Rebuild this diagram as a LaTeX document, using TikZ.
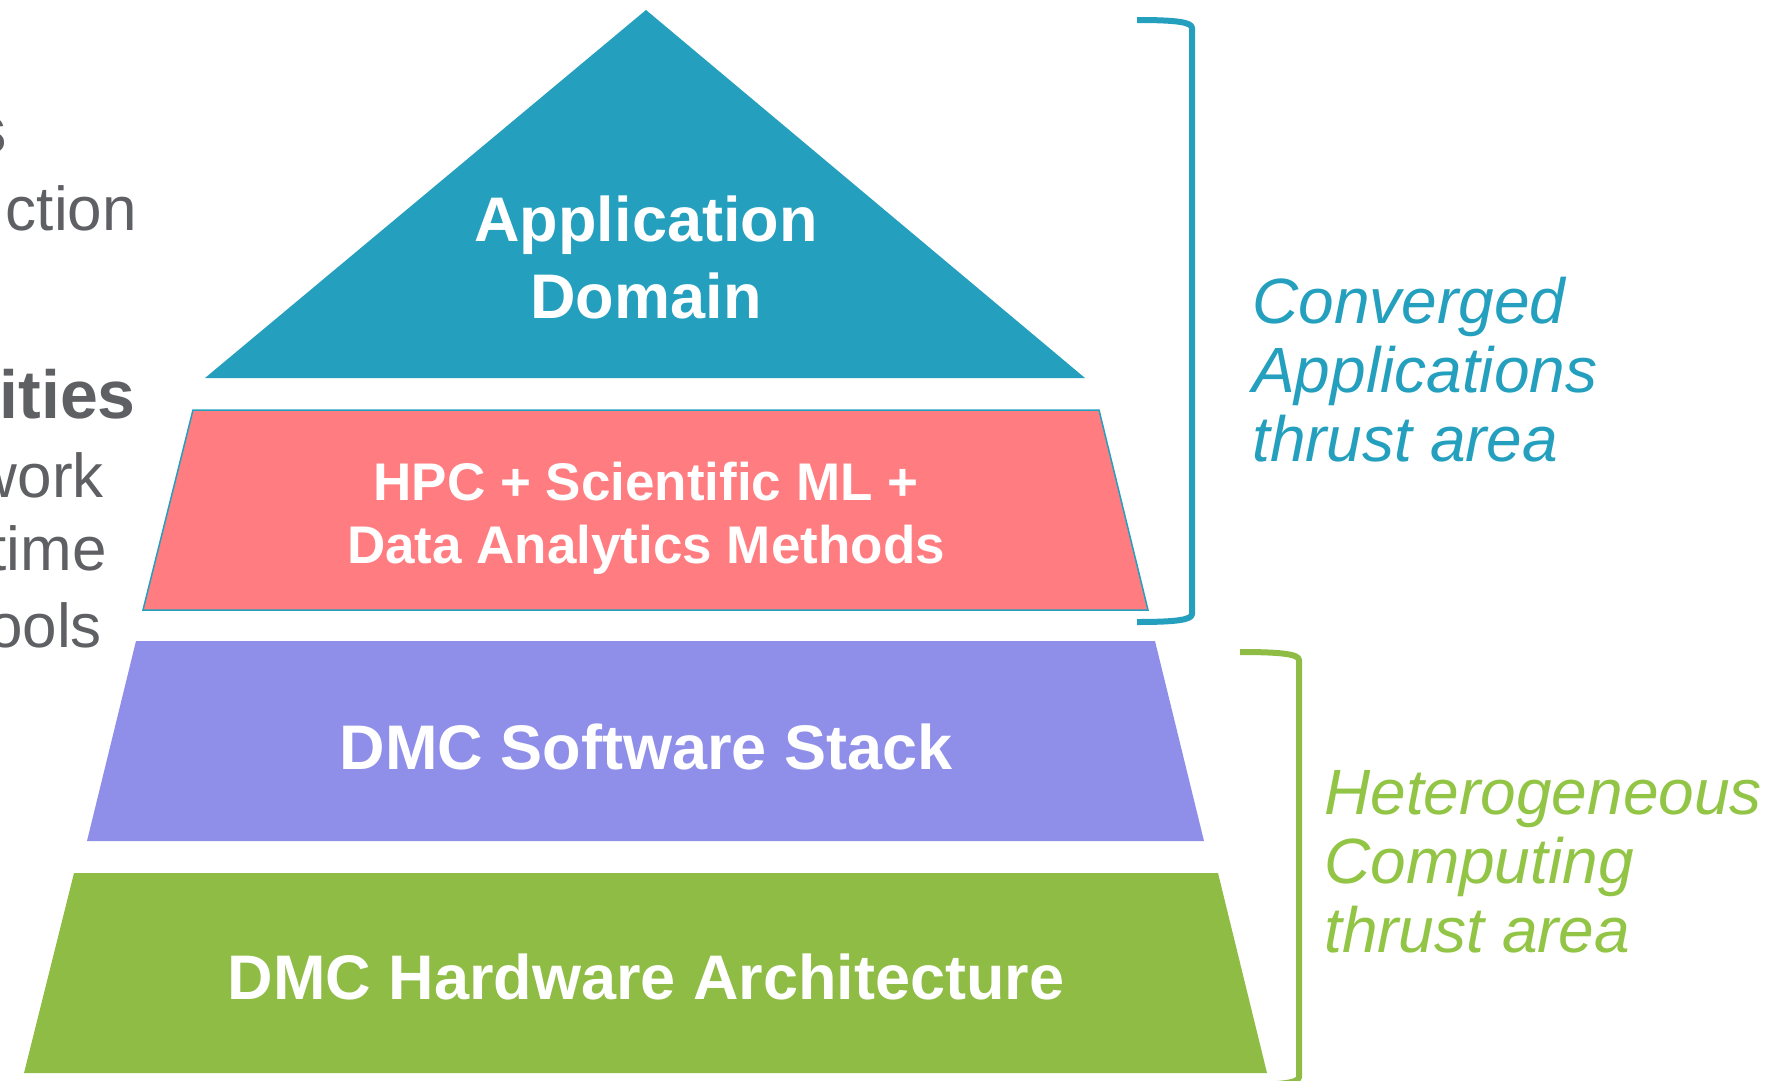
\documentclass[tikz,border=0pt]{standalone}
\usepackage{fontspec}
\setmainfont{Liberation Sans}
\usetikzlibrary{positioning}
\definecolor{appteal}{RGB}{36,160,190}
\definecolor{methodred}{RGB}{255,124,128}
\definecolor{stackpurple}{RGB}{143,143,233}
\definecolor{hwgreen}{RGB}{142,188,69}
\definecolor{hwgreentext}{RGB}{146,196,70}
\definecolor{sidegray}{RGB}{95,96,100}

\begin{document}
\begin{tikzpicture}[x=1pt, y=-1pt,
    layer/.style={text=white, align=center, inner sep=0pt, anchor=base, font=\bfseries\fontsize{63}{77}\selectfont},
    thrust/.style={align=left, inner sep=0pt, anchor=base west, font=\itshape\fontsize{64}{69}\selectfont},
    sidehead/.style={text=sidegray, inner sep=0pt, anchor=base east, font=\bfseries\fontsize{68}{80}\selectfont},
    sideitem/.style={text=sidegray, inner sep=0pt, anchor=base east, font=\fontsize{62}{75}\selectfont},
    bracket/.style={line width=6pt, line join=round}]
    \useasboundingbox (0,0) rectangle (1780,1081);

    % pyramid layers
    \fill[appteal] (646,10) -- (1085,378) -- (205,378) -- cycle;
    \filldraw[fill=methodred, draw=appteal, line width=1.5pt] (193,410) -- (1099,410) -- (1148,610) -- (143,610) -- cycle;
    \fill[stackpurple] (136,641) -- (1155,641) -- (1204,841) -- (87,841) -- cycle;
    \fill[hwgreen] (74,873) -- (1218,873) -- (1267,1073) -- (24,1073) -- cycle;

    % base anchor of a two-line node = last line
    \node[layer] (domain) at (646,318) {Application\\Domain};
    \node[layer, font=\bfseries\fontsize{53}{63}\selectfont] (methods) at (646,563) {HPC + Scientific ML +\\Data Analytics Methods};
    \node[layer] (software) at (646,769) {DMC Software Stack};
    \node[layer] (hardware) at (646,999) {DMC Hardware Architecture};

    % thrust brackets
    \draw[bracket, appteal] (1137,20) .. controls (1175,20) and (1192,22) .. (1192,28)
        -- (1192,614) .. controls (1192,620) and (1175,622) .. (1137,622);
    \draw[bracket, hwgreen] (1240,652) .. controls (1280,652) and (1299,654) .. (1299,660)
        -- (1299,1077) .. controls (1299,1083) and (1280,1085) .. (1240,1085);

    \node[thrust, text=appteal] (converged) at (1252,461) {Converged\\Applications\\thrust area};
    \node[thrust, text=hwgreentext] (hetero) at (1324,952) {Heterogeneous\\Computing\\thrust area};

    % cut-off text on the left
    \node[sidehead] (headA) at (8,153) {s};
    \node[sideitem] (itemA) at (137,230) {ction};
    \node[sidehead] (headB) at (136,418) {ities};
    \node[sideitem] (itemB) at (104,497) {work};
    \node[sideitem] (itemC) at (107,570) {time};
    \node[sideitem] (itemD) at (102,647) {ools};
\end{tikzpicture}
\end{document}
